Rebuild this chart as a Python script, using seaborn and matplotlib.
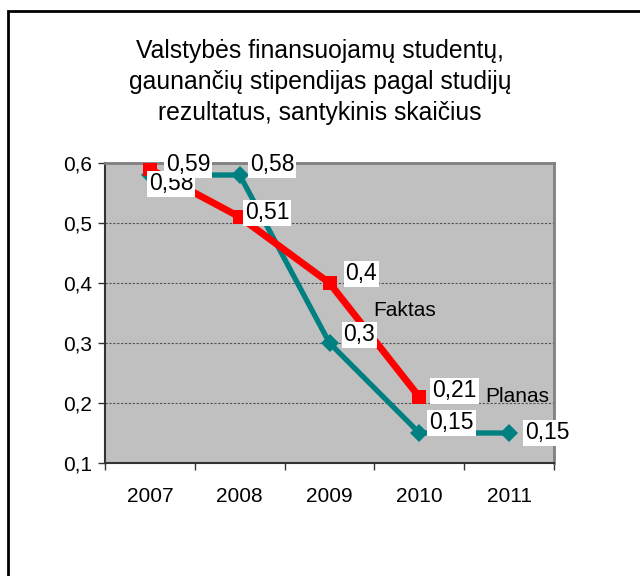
import matplotlib
matplotlib.use("Agg")
import matplotlib.pyplot as plt
from matplotlib.patches import Rectangle
from matplotlib.ticker import FixedLocator, NullFormatter
import seaborn as sns
import pandas as pd

# Chart data
years = ["2007", "2008", "2009", "2010", "2011"]
faktas = [0.59, 0.51, 0.40, 0.21]
planas = [0.58, 0.58, 0.30, 0.15, 0.15]
y_ticks = [0.1, 0.2, 0.3, 0.4, 0.5, 0.6]
title_lines = [
    "Valstybės finansuojamų studentų,",
    "gaunančių stipendijas pagal studijų",
    "rezultatus, santykinis skaičius",
]

# Label offsets in pixels (dx, dy) relative to each point
faktas_offsets = [(16, 4), (5, 4), (16, 9), (13, 6)]
planas_offsets = [(-1, -9), (10, 10), (14, 8), (10, 10), (16, 0)]

sns.set_theme(style="white")
plt.rcParams["font.family"] = ["Liberation Sans", "DejaVu Sans"]
plt.rcParams["text.color"] = "black"
plt.rcParams["xtick.color"] = "black"
plt.rcParams["ytick.color"] = "black"
plt.rcParams["xtick.labelcolor"] = "black"
plt.rcParams["ytick.labelcolor"] = "black"
FS_AXIS = 15
FS_LABEL = 16.5
FS_NAME = 15
FS_TITLE = 17.8

df_f = pd.DataFrame({"x": range(len(faktas)), "y": faktas})
df_p = pd.DataFrame({"x": range(len(planas)), "y": planas})

fig = plt.figure(figsize=(6.4, 5.76), dpi=100)
fig.patch.set_facecolor("white")
ax = fig.add_axes([105 / 640, 1 - 463 / 576, 449 / 640, 300 / 576])
ax.set_facecolor("#C0C0C0")

sns.lineplot(data=df_p, x="x", y="y", ax=ax, color="#008080", lw=3.8,
             marker="D", markersize=9.5, markeredgewidth=0, zorder=3)
sns.lineplot(data=df_f, x="x", y="y", ax=ax, color="#FF0000", lw=5,
             marker="s", markersize=10, markeredgewidth=0, zorder=4)

ax.set_xlim(-0.5, len(years) - 0.5)
ax.set_ylim(0.1, 0.6)
ax.set_xlabel("")
ax.set_ylabel("")

# Category axis: ticks at boundaries, labels at centers
ax.xaxis.set_major_locator(FixedLocator([i - 0.5 for i in range(len(years) + 1)]))
ax.xaxis.set_major_formatter(NullFormatter())
ax.xaxis.set_minor_locator(FixedLocator(list(range(len(years)))))
ax.set_xticklabels(years, minor=True, fontsize=FS_AXIS)
ax.tick_params(axis="x", which="major", direction="out", length=5, width=1,
               color="#333333", bottom=True)
ax.tick_params(axis="x", which="minor", length=0, pad=17, bottom=True)

ax.set_yticks(y_ticks)
ax.set_yticklabels([f"{v:.1f}".replace(".", ",") for v in y_ticks],
                   fontsize=FS_AXIS)
ax.tick_params(axis="y", direction="out", length=5, width=1, color="#333333",
               left=True, pad=4)

for v in y_ticks[1:-1]:
    ax.axhline(v, color="#505050", lw=0.8, ls=(0, (2, 1.5)), zorder=1)

for side in ("top", "right"):
    ax.spines[side].set_color("#808080")
    ax.spines[side].set_linewidth(2)
for side in ("left", "bottom"):
    ax.spines[side].set_color("#333333")
    ax.spines[side].set_linewidth(1.5)

def fmt(v):
    return f"{v:g}".replace(".", ",")

box = dict(boxstyle="square,pad=0.08", fc="white", ec="none")
for i, (v, off) in enumerate(zip(planas, planas_offsets)):
    ax.annotate(fmt(v), (i, v), xytext=off, textcoords="offset pixels",
                ha="left", va="center", fontsize=FS_LABEL, bbox=box,
                zorder=6, annotation_clip=False)
for i, (v, off) in enumerate(zip(faktas, faktas_offsets)):
    ax.annotate(fmt(v), (i, v), xytext=off, textcoords="offset pixels",
                ha="left", va="center", fontsize=FS_LABEL, bbox=box,
                zorder=7, annotation_clip=False)

# Series names
fig.text(373 / 640, 1 - 311 / 576, "Faktas", ha="left", va="center",
         fontsize=FS_NAME)
fig.text(485 / 640, 1 - 396 / 576, "Planas", ha="left", va="center",
         fontsize=FS_NAME)

# Title
for k, line in enumerate(title_lines):
    fig.text(320 / 640, 1 - (51 + 31 * k) / 576, line, ha="center",
             va="center", fontsize=FS_TITLE)

# Outer chart frame
fig.patches.append(Rectangle((8 / 640, -0.1), 1.2, 1 - 11 / 576 + 0.1,
                             transform=fig.transFigure, fill=False,
                             ec="black", lw=2, zorder=0))

fig.savefig("out.png", dpi=100)
